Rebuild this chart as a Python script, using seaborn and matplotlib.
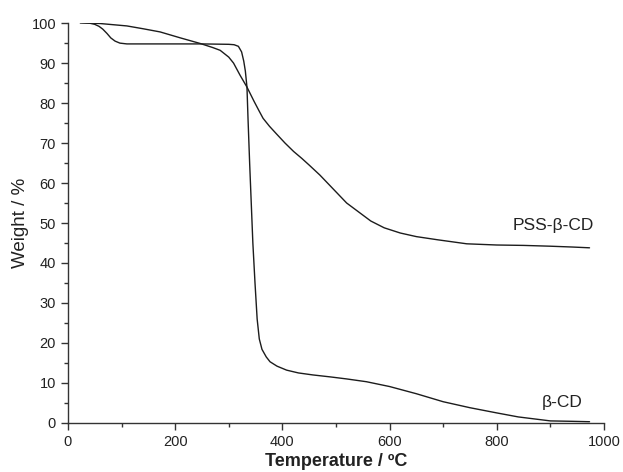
import pandas as pd
import seaborn as sns
import matplotlib.pyplot as plt

# beta-CD curve (temperature in C, weight in %)
cd_temp = [23, 40, 50, 58, 65, 73, 80, 88, 97, 110, 150, 200, 250, 300, 310, 318,
           324, 328, 331, 334, 336, 339, 342, 345, 349, 353, 357, 362, 370, 377,
           390, 408, 430, 457, 490, 520, 557, 600, 650, 700, 750, 800, 840, 870,
           900, 940, 973]
cd_weight = [100.1, 100, 99.7, 99.2, 98.5, 97.4, 96.3, 95.5, 95.0, 94.8, 94.8, 94.8,
             94.8, 94.7, 94.6, 94.2, 92.8, 90.5, 88, 84, 76, 65, 55, 45, 35, 26, 21,
             18.4, 16.5, 15.3, 14.2, 13.2, 12.5, 12.0, 11.5, 11.0, 10.3, 9.1, 7.3,
             5.3, 3.8, 2.5, 1.5, 1.0, 0.5, 0.4, 0.3]

# PSS-beta-CD curve
pss_temp = [23, 60, 110, 140, 172, 210, 247, 270, 284, 300, 309, 321, 334, 347,
            356, 364, 376, 389, 405, 421, 436, 450, 470, 495, 520, 540, 565, 590,
            620, 650, 690, 744, 800, 850, 900, 940, 973]
pss_weight = [100.1, 99.9, 99.3, 98.6, 97.8, 96.3, 94.9, 93.9, 93.2, 91.5, 90.0,
              87.0, 84.0, 80.5, 78.2, 76.2, 74.2, 72.3, 70.0, 67.9, 66.2, 64.5,
              62.0, 58.5, 55.0, 53.0, 50.5, 48.8, 47.5, 46.6, 45.8, 44.8, 44.5,
              44.4, 44.2, 44.0, 43.8]

labels = ["PSS-\u03b2-CD", "\u03b2-CD"]
label_x = [906, 922]
label_y = [49.5, 5]

sns.set_style("ticks")
plt.rcParams['font.family'] = ['Liberation Sans', 'DejaVu Sans']

fig = plt.figure(figsize=(6.23, 4.72), dpi=100)
ax = fig.add_axes([0.109, 0.104, 0.8605, 0.847])

line_color = "#1c1c1c"
sns.lineplot(x=cd_temp, y=cd_weight, ax=ax, color=line_color, lw=1.0, sort=False)
sns.lineplot(x=pss_temp, y=pss_weight, ax=ax, color=line_color, lw=1.0, sort=False)

for txt, xx, yy in zip(labels, label_x, label_y):
    ax.text(xx, yy, txt, ha="center", va="center", fontsize=12.5, color="#222222")

ax.set_xlim(0, 1000)
ax.set_ylim(0, 100)
ax.set_xticks(range(0, 1001, 200))
ax.set_xticks(range(100, 1000, 200), minor=True)
ax.set_yticks(range(0, 101, 10))
ax.set_yticks(range(5, 100, 10), minor=True)
ax.tick_params(which="major", length=5, width=1, colors="#333333", labelsize=10.5,
               labelcolor="#222222")
ax.tick_params(which="minor", length=3, width=1, colors="#333333")

sns.despine(ax=ax)
for s in ["left", "bottom"]:
    ax.spines[s].set_color("#333333")
    ax.spines[s].set_linewidth(1.0)

ax.set_xlabel("Temperature / \u00baC", fontsize=13, fontweight="bold", color="#222222",
              labelpad=3)
ax.set_ylabel("Weight / %", fontsize=13.5, color="#222222", labelpad=2)

fig.savefig("out.png", dpi=100)
